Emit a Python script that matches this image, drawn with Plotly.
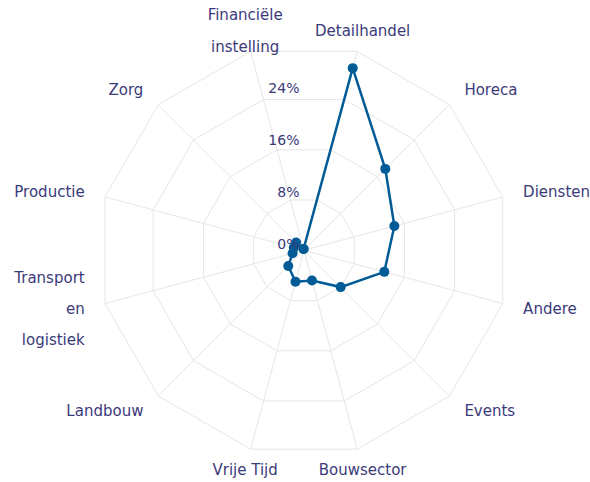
import plotly.graph_objects as go

TEXT_COLOR = '#3b3a7a'
LINE_COLOR = '#005b96'
GRID_COLOR = '#e6e6e6'
NO_COLOR = 'rgba(0,0,0,0)'

categories = [
    'Financiële instelling',
    'Detailhandel',
    'Horeca',
    'Diensten',
    'Andere',
    'Events',
    'Bouwsector',
    'Vrije Tijd',
    'Landbouw',
    'Transport en logistiek',
    'Productie',
    'Zorg',
]
category_labels = [
    'Financiële<br><br>instelling',
    'Detailhandel',
    'Horeca',
    'Diensten',
    'Andere',
    'Events',
    'Bouwsector',
    'Vrije Tijd',
    'Landbouw',
    'Transport<br><br>en<br><br>logistiek',
    'Productie',
    'Zorg',
]
label_positions = [
    'middle center', 'middle center', 'middle right', 'middle right',
    'middle right', 'middle right', 'middle center', 'middle center',
    'middle left', 'middle left', 'middle left', 'middle left',
]
percentages = [0.2, 29.0, 17.7, 14.4, 12.8, 8.0, 4.8, 5.0, 3.4, 1.8, 1.6, 1.7]

radial_max = 31.66
label_radius = 34.9
label_ring_max = 35.32
radial_ticks = [0, 8, 16, 24]
radial_labels = ['0%', '8%', '16%', '24%']


def span(label, size=15):
    """Wrap every line in a span so the glyphs are bigger than the line spacing."""
    return '<br>'.join(
        f"<span style='font-size:{size}px'>{part}</span>" if part else ''
        for part in label.split('<br>')
    )


def hidden_polar(domain, radial_range, angular):
    """Invisible polar subplot, only used to place texts."""
    return {
        'domain': domain,
        'bgcolor': NO_COLOR,
        'radialaxis': {'range': radial_range, 'visible': False, 'showgrid': False},
        'angularaxis': {'visible': False, 'showgrid': False, **angular},
    }


def build_sector_figure() -> go.Figure:
    """Spider chart of the share per sector."""
    figure = go.Figure()
    figure.add_trace(
        go.Scatterpolar(
            r=percentages + percentages[:1],
            theta=categories + categories[:1],
            mode='lines+markers',
            line={'color': LINE_COLOR, 'width': 2.5},
            marker={'color': LINE_COLOR, 'size': 10},
            hovertemplate='%{theta}: %{r}%<extra></extra>',
        ),
    )
    # category names just outside the web
    figure.add_trace(
        go.Scatterpolar(
            r=[label_radius] * len(categories),
            theta=categories,
            mode='text',
            text=[span(label) for label in category_labels],
            textposition=label_positions,
            textfont={'family': 'DejaVu Sans', 'size': 12, 'color': TEXT_COLOR},
            hoverinfo='skip',
            subplot='polar2',
        ),
    )
    # percentage labels on a vertical line
    figure.add_trace(
        go.Scatterpolar(
            r=radial_ticks,
            theta=[0] * len(radial_ticks),
            mode='text',
            text=[label + '\u00a0' for label in radial_labels],
            textposition='top left',
            textfont={'family': 'DejaVu Sans', 'size': 14, 'color': TEXT_COLOR},
            hoverinfo='skip',
            subplot='polar3',
        ),
    )
    main_domain = {'x': [0.16610, 0.86407], 'y': [0.05353, 0.90788]}
    figure.update_layout(
        width=590,
        height=482,
        margin={'l': 0, 'r': 0, 't': 0, 'b': 0},
        paper_bgcolor='white',
        showlegend=False,
        font={'family': 'DejaVu Sans', 'size': 12, 'color': TEXT_COLOR},
        polar={
            'domain': main_domain,
            'bgcolor': 'white',
            'gridshape': 'linear',
            'angularaxis': {
                'direction': 'clockwise',
                'rotation': 105,
                'showline': True,
                'linecolor': GRID_COLOR,
                'linewidth': 1,
                'gridcolor': GRID_COLOR,
                'ticks': '',
                'showticklabels': False,
            },
            'radialaxis': {
                'range': [0, radial_max],
                'tickvals': radial_ticks,
                'showline': False,
                'showticklabels': False,
                'ticks': '',
                'gridcolor': GRID_COLOR,
            },
        },
        polar2=hidden_polar(
            {'x': [0.12576, 0.90441], 'y': [0.0, 0.95311]},
            [0, label_ring_max],
            {'direction': 'clockwise', 'rotation': 105, 'categoryarray': categories},
        ),
        polar3=hidden_polar(
            {'x': [0.16610, 0.86407], 'y': [0.04938, 0.90373]},
            [0, radial_max],
            {'direction': 'clockwise', 'rotation': 90, 'type': 'linear'},
        ),
    )
    return figure


fig = build_sector_figure()
# the page body has an 8px default margin; drop it so the figure fills the window
fig.write_html(
    'out.html',
    config={'displayModeBar': False},
    post_script="document.body.style.margin = '0';",
)
